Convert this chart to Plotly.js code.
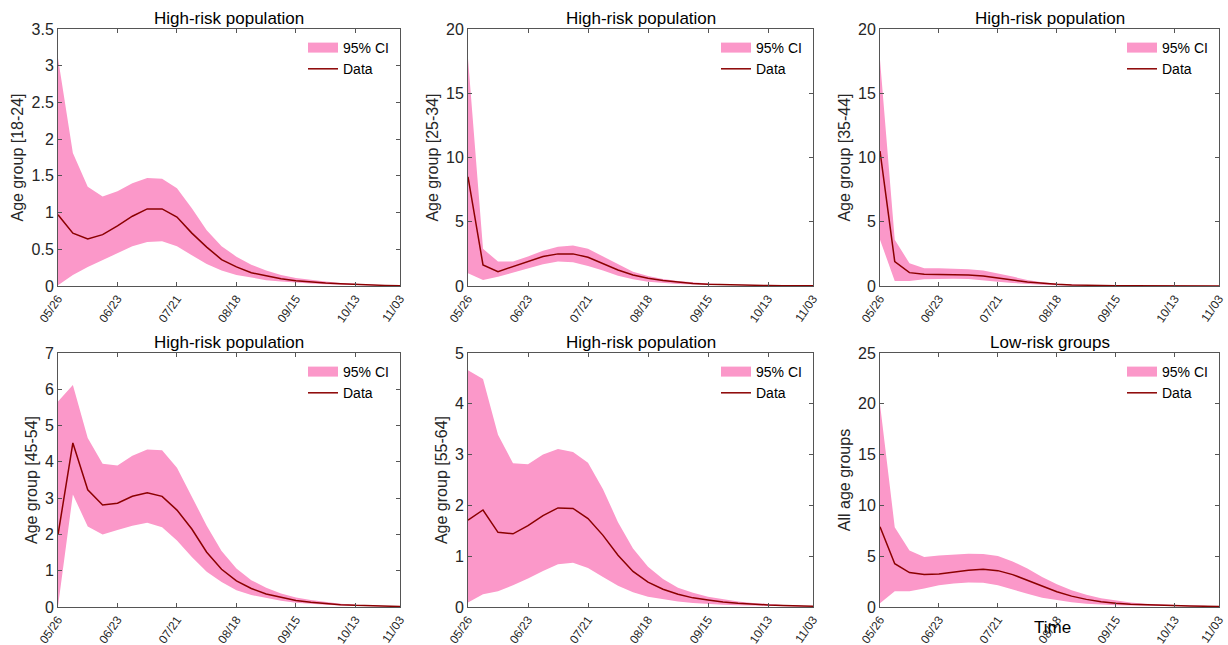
<!DOCTYPE html>
<html>
<head>
<meta charset="utf-8">
<script src="https://cdn.plot.ly/plotly-3.0.1.min.js"></script>
<style>html,body{margin:0;padding:0;background:#fff;}#chart{width:1228px;height:645px;}</style>
</head>
<body>
<div id="chart"></div>
<script>
// Weekly time points
const weeks = ["05/26","06/02","06/09","06/16","06/23","06/30","07/07","07/14","07/21","07/28","08/04","08/11",
               "08/18","08/25","09/01","09/08","09/15","09/22","09/29","10/06","10/13","10/20","10/27","11/03"];
const tickLabels = ["05/26","06/23","07/21","08/18","09/15","10/13","11/03"];

// Panel titles and y labels
const panelTitles = ["High-risk population","High-risk population","High-risk population",
                     "High-risk population","High-risk population","Low-risk groups"];
const yLabels = ["Age group [18-24]","Age group [25-34]","Age group [35-44]",
                 "Age group [45-54]","Age group [55-64]","All age groups"];

// Age 18-24
const data18 = [0.97,0.72,0.64,0.70,0.82,0.95,1.05,1.05,0.94,0.72,0.53,0.36,0.26,0.18,0.14,0.10,0.073,0.055,0.04,0.03,0.02,0.012,0.008,0.005];
const up18   = [3.10,1.81,1.35,1.22,1.29,1.40,1.47,1.46,1.33,1.06,0.76,0.54,0.40,0.29,0.21,0.15,0.11,0.08,0.06,0.04,0.027,0.017,0.01,0.006];
const lo18   = [0.01,0.15,0.26,0.36,0.45,0.54,0.60,0.61,0.54,0.42,0.30,0.21,0.15,0.11,0.08,0.06,0.045,0.033,0.024,0.017,0.012,0.008,0.005,0.003];

// Age 25-34
const data25 = [8.5,1.64,1.12,1.5,1.9,2.3,2.5,2.5,2.23,1.77,1.25,0.86,0.6,0.42,0.29,0.2,0.14,0.1,0.07,0.05,0.035,0.025,0.018,0.012];
const up25   = [17.7,2.9,1.9,1.9,2.3,2.75,3.05,3.15,2.9,2.3,1.65,1.1,0.78,0.55,0.39,0.27,0.19,0.13,0.09,0.065,0.045,0.032,0.022,0.015];
const lo25   = [1.0,0.47,0.72,1.1,1.38,1.7,1.9,1.85,1.56,1.2,0.8,0.52,0.34,0.23,0.16,0.11,0.08,0.055,0.04,0.028,0.02,0.014,0.01,0.007];

// Age 35-44
const data35 = [10.5,1.9,1.04,0.91,0.9,0.9,0.86,0.78,0.65,0.47,0.31,0.2,0.13,0.08,0.05,0.035,0.025,0.018,0.013,0.009,0.007,0.005,0.004,0.003];
const up35   = [17.6,3.6,1.77,1.38,1.38,1.35,1.3,1.2,0.98,0.73,0.47,0.29,0.18,0.11,0.07,0.045,0.03,0.02,0.013,0.009,0.007,0.005,0.004,0.003];
const lo35   = [3.6,0.39,0.39,0.52,0.57,0.57,0.55,0.44,0.34,0.23,0.15,0.1,0.06,0.04,0.025,0.017,0.012,0.009,0.007,0.005,0.004,0.003,0.002,0.002];

// Age 45-54
const data45 = [1.99,4.52,3.23,2.81,2.86,3.05,3.15,3.05,2.67,2.15,1.51,1.04,0.72,0.51,0.36,0.26,0.18,0.13,0.09,0.065,0.045,0.03,0.02,0.015];
const up45   = [5.66,6.12,4.66,3.95,3.90,4.17,4.34,4.32,3.84,3.06,2.24,1.54,1.06,0.74,0.53,0.37,0.26,0.19,0.13,0.09,0.065,0.045,0.03,0.02];
const lo45   = [0.02,3.1,2.22,2.0,2.12,2.24,2.32,2.2,1.83,1.38,0.97,0.69,0.46,0.33,0.24,0.17,0.12,0.085,0.06,0.043,0.03,0.02,0.014,0.01];

// Age 55-64
const data55 = [1.71,1.91,1.47,1.44,1.6,1.8,1.95,1.94,1.74,1.41,1.02,0.70,0.49,0.35,0.25,0.18,0.14,0.1,0.075,0.055,0.04,0.03,0.02,0.015];
const up55   = [4.66,4.49,3.39,2.83,2.81,3.0,3.11,3.05,2.84,2.32,1.67,1.15,0.79,0.55,0.38,0.28,0.2,0.15,0.11,0.08,0.055,0.04,0.03,0.02];
const lo55   = [0.09,0.25,0.31,0.43,0.56,0.71,0.84,0.87,0.77,0.59,0.42,0.29,0.2,0.15,0.11,0.08,0.06,0.045,0.033,0.025,0.018,0.013,0.009,0.006];

// All age groups
const dataAll = [7.9,4.26,3.39,3.19,3.26,3.45,3.61,3.71,3.58,3.19,2.64,2.05,1.5,1.07,0.75,0.52,0.36,0.28,0.22,0.17,0.13,0.1,0.08,0.06];
const upAll   = [19.95,7.85,5.57,4.92,5.08,5.18,5.24,5.21,5.01,4.49,3.78,2.96,2.25,1.66,1.2,0.85,0.62,0.45,0.33,0.25,0.19,0.15,0.12,0.1];
const loAll   = [0.36,1.56,1.56,1.82,2.15,2.31,2.41,2.38,2.15,1.76,1.3,0.91,0.65,0.46,0.32,0.24,0.18,0.14,0.1,0.08,0.06,0.05,0.04,0.03];

const panels = [
  {d:data18, u:up18, l:lo18, yr:[0,3.5], dt:0.5},
  {d:data25, u:up25, l:lo25, yr:[0,20], dt:5},
  {d:data35, u:up35, l:lo35, yr:[0,20], dt:5},
  {d:data45, u:up45, l:lo45, yr:[0,7], dt:1},
  {d:data55, u:up55, l:lo55, yr:[0,5], dt:1},
  {d:dataAll, u:upAll, l:loAll, yr:[0,25], dt:5}
];

const W = 1228, H = 645;
const colsPx = [[58,400],[468,813],[880,1219]];
const rowsPx = [[29,286],[353,607]];
const FONT = "Liberation Sans, Arial, Helvetica, sans-serif";
const AX = "#555555";
const TXT = "#262626";
const PINK = "#fb98c9";

const traces = [];
const layout = {
  width: W, height: H,
  margin: {l:0, r:0, t:0, b:0},
  paper_bgcolor: "#ffffff", plot_bgcolor: "#ffffff",
  font: {family: FONT, color: TXT},
  annotations: []
};

panels.forEach((p, i) => {
  const r = Math.floor(i/3), c = i%3;
  const k = i+1;
  const xa = "x" + (k===1?"":k), ya = "y" + (k===1?"":k);
  const xKey = "xaxis" + (k===1?"":k), yKey = "yaxis" + (k===1?"":k);
  const lg = "legend" + (k===1?"":k);
  const xd = [colsPx[c][0]/W, colsPx[c][1]/W];
  const yd = [1 - rowsPx[r][1]/H, 1 - rowsPx[r][0]/H];

  // CI band (legend shown via a thick legend-only swatch below)
  traces.push({
    type: "scatter", mode: "lines",
    x: weeks.concat(weeks.slice().reverse()),
    y: p.u.concat(p.l.slice().reverse()),
    fill: "toself", fillcolor: PINK,
    line: {width: 0, color: PINK},
    name: "95% CI", xaxis: xa, yaxis: ya, legend: lg, showlegend: false, hoverinfo: "skip"
  });
  traces.push({
    type: "scatter", mode: "lines",
    x: [null], y: [null],
    line: {width: 13, color: PINK},
    name: "95% CI", xaxis: xa, yaxis: ya, legend: lg, hoverinfo: "skip"
  });
  traces.push({
    type: "scatter", mode: "lines",
    x: weeks, y: p.d,
    line: {width: 1.5, color: "#8b0000"},
    name: "Data", xaxis: xa, yaxis: ya, legend: lg
  });

  layout[xKey] = {
    domain: xd, anchor: ya, type: "category",
    range: [0, weeks.length-1],
    tickmode: "array", tickvals: tickLabels, ticktext: tickLabels,
    tickangle: -55, ticks: "inside", ticklen: 4, tickcolor: AX,
    showline: true, linecolor: AX, linewidth: 1, mirror: "ticks",
    showgrid: false, zeroline: false,
    tickfont: {size: 12, family: FONT, color: TXT}
  };
  layout[yKey] = {
    domain: yd, anchor: xa,
    range: p.yr, dtick: p.dt, tick0: 0,
    ticks: "inside", ticklen: 4, tickcolor: AX,
    showline: true, linecolor: AX, linewidth: 1, mirror: "ticks",
    showgrid: false, zeroline: false,
    tickfont: {size: 16, family: FONT, color: TXT},
    title: {text: yLabels[i], font: {size: 16, family: FONT, color: TXT}, standoff: 3}
  };
  layout[lg] = {
    x: (colsPx[c][1]-6)/W, y: 1 - (rowsPx[r][0]+3)/H,
    xanchor: "right", yanchor: "top",
    bgcolor: "rgba(255,255,255,0)", borderwidth: 0,
    font: {size: 14, family: FONT, color: "#000"},
    itemwidth: 30, tracegroupgap: 0
  };
  layout.annotations.push({
    xref: "paper", yref: "paper",
    x: (colsPx[c][0]+colsPx[c][1])/2/W, y: 1 - (rowsPx[r][0]-11)/H,
    xanchor: "center", yanchor: "middle", showarrow: false,
    text: panelTitles[i], font: {size: 17, family: FONT, color: "#000"}
  });
});

layout.annotations.push({
  xref: "paper", yref: "paper", x: 1052/W, y: 1 - 627/H,
  xanchor: "center", yanchor: "middle", showarrow: false,
  text: "Time", font: {size: 17, family: FONT, color: "#000"}
});

Plotly.newPlot("chart", traces, layout, {displayModeBar: false, staticPlot: true});
</script>
</body>
</html>
